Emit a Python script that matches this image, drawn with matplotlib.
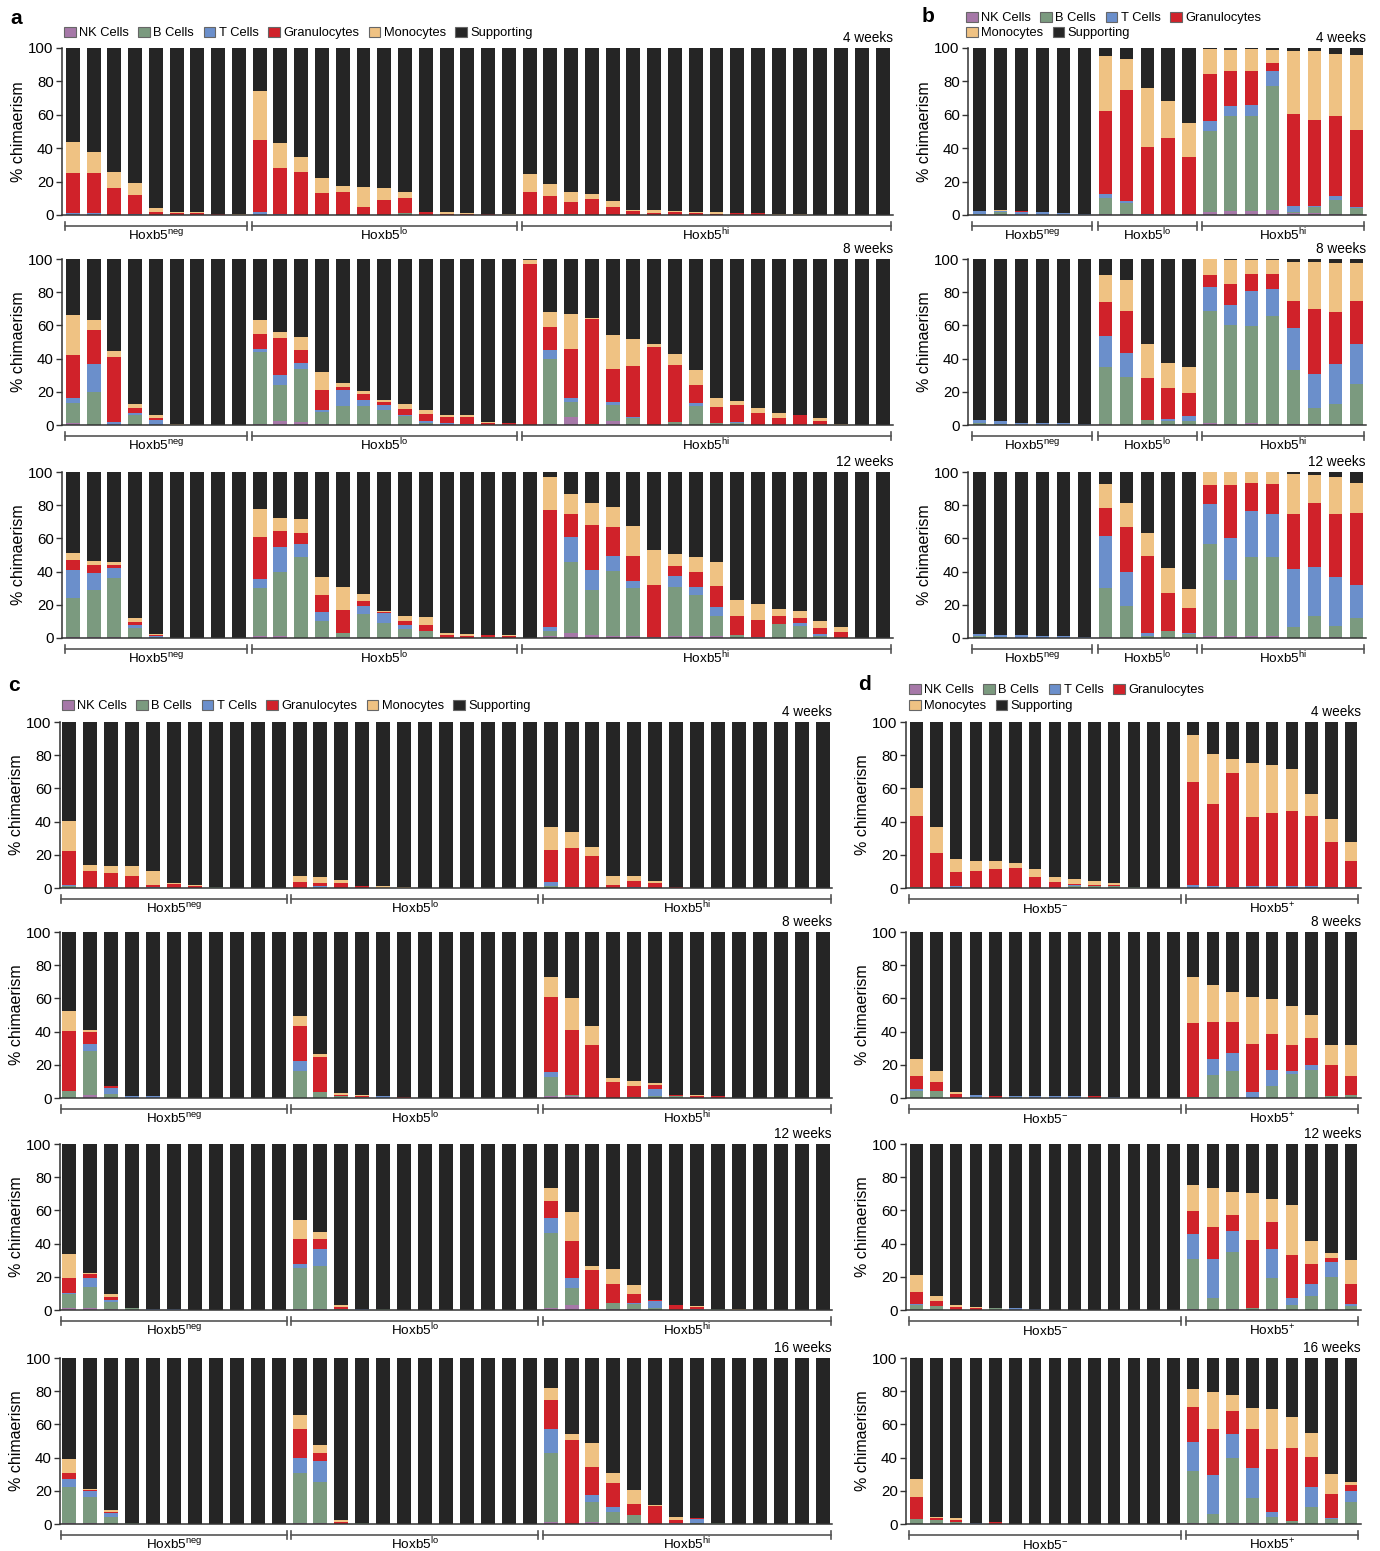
import numpy as np
import matplotlib
matplotlib.use('Agg')
import matplotlib.pyplot as plt
from matplotlib.patches import Patch
from matplotlib.transforms import blended_transform_factory
from matplotlib.lines import Line2D

plt.rcParams['font.family'] = ['Liberation Sans', 'DejaVu Sans']
plt.rcParams['mathtext.fontset'] = 'custom'
plt.rcParams['mathtext.rm'] = 'Liberation Sans'
plt.rcParams['mathtext.it'] = 'Liberation Sans:italic'
plt.rcParams['mathtext.bf'] = 'Liberation Sans:bold'

CELL_TYPES = ['NK Cells', 'B Cells', 'T Cells', 'Granulocytes', 'Monocytes', 'Supporting']
COLORS = ['#a678a8', '#7b9a7f', '#6b8fcb', '#d0222a', '#efc283', '#252525']

# Each bar: cumulative top of [NK, B, T, Granulocytes, Monocytes]; Supporting fills to 100
A4 = [
    [0, 0, 1, 25, 44], [0, 0, 1, 25, 38], [0, 0, 0, 16, 26], [0, 0, 0.5, 12, 19], [0, 0, 0, 1.5, 4],
    [0, 0, 0, 1, 1.5], [0, 0, 0, 1, 1.5], [0, 0, 0, 0.5, 0.6], [0, 0, 0, 0.2, 0.5],
    [0, 0, 1.5, 45, 74], [0, 0, 0.5, 28, 43], [0, 0, 0, 26, 34.5], [0, 0, 0, 13, 22], [0, 0, 0, 14, 17.5],
    [0, 0, 0, 5, 16.5], [0, 0, 0, 9, 16], [0, 1, 1, 10, 13.5], [0, 0, 0, 1.5, 2], [0, 0, 0, 0.5, 1.5],
    [0, 0, 0, 0.5, 1], [0, 0, 0, 0.3, 0.6], [0, 0, 0, 0, 0.3],
    [0, 0, 0, 13.5, 24.5], [0.5, 0.5, 0.5, 11.5, 18.5], [0, 0.5, 0.5, 8, 13.5], [0, 0, 0, 9.5, 12.5],
    [0, 0, 0, 5, 8.5], [0, 0, 0, 2.5, 3], [0, 0, 0, 1, 3], [0, 0, 0, 1.5, 2.2], [0, 0, 0, 1, 2],
    [0, 0, 0, 0.8, 1.5], [0, 0, 0, 1.2, 1.2], [0, 0, 0, 1, 1], [0, 0, 0, 0.2, 0.5], [0, 0, 0, 0, 0.3],
    [0, 0, 0, 0, 0], [0, 0, 0, 0, 0], [0, 0, 0, 0, 0], [0, 0, 0, 0, 0],
]
A8 = [
    [1, 13, 16, 42, 66], [0, 20, 37, 57, 63], [0, 0, 2, 41, 44.5], [0, 6, 7, 10, 12.5], [0, 0, 3, 4.5, 6],
    [0, 0, 0, 0.3, 0.5], [0, 0, 0, 0, 0], [0, 0, 0, 0, 0], [0, 0, 0, 0, 0],
    [0.5, 44, 46, 55, 63.5], [2.5, 24, 30, 52.5, 56], [2, 34, 37.5, 45, 53], [0.5, 8, 9, 21, 32],
    [0, 11.5, 21, 23, 25.5], [0, 11.5, 15, 18.5, 20.5], [0, 9, 12, 14, 15], [0, 5.5, 6, 9.5, 12.5],
    [0, 1.5, 2.5, 6.5, 9], [0, 0, 1, 5, 6], [0, 0, 0.5, 5, 6], [0, 0, 0, 1.5, 2], [0, 0, 0, 1, 1.2],
    [0, 0, 0, 97, 99.5], [0.5, 40, 45, 59, 68], [5, 14, 16, 46, 67], [0, 0.5, 0.5, 64, 64.5],
    [2.5, 12, 14, 33.5, 54], [0, 4, 5, 35.5, 52], [0, 0, 0, 47, 48.5], [0, 2, 2, 36, 43],
    [0, 11.5, 13.5, 24, 33], [0, 1.5, 1.5, 11, 16], [0, 1.5, 2, 12, 14.5], [0, 0, 0, 7, 10],
    [0, 0, 0, 4.5, 7.5], [0, 0, 0, 6, 6], [0, 0, 0, 2.5, 4], [0, 0, 0, 0.3, 0.5],
    [0, 0, 0, 0, 0], [0, 0, 0, 0, 0],
]
A12 = [
    [0.5, 24, 41, 47, 51.5], [0.5, 29, 39, 44, 46.5], [0.5, 36, 42, 44, 45.5], [0, 6, 8, 9.5, 12],
    [0, 0, 1, 2, 2.5], [0, 0, 0, 0, 0], [0, 0, 0, 0, 0], [0, 0, 0, 0, 0], [0, 0, 0, 0, 0],
    [1.5, 30, 35.5, 61, 78], [1, 40, 55, 64.5, 72], [0, 49, 56.5, 63.5, 71.5], [0.5, 10.5, 15.5, 26, 37],
    [0.5, 3, 3, 17, 31], [0, 14.5, 19, 22, 26.5], [0, 9, 15, 15.5, 16], [0.5, 5.5, 8, 10.5, 13.5],
    [0, 4.5, 4.5, 8, 12.5], [0, 0, 0, 2, 3], [0, 0, 0, 1.5, 2.5], [0, 0.5, 0.5, 2, 2], [0, 0, 0, 1.5, 2],
    [0, 0, 0, 0, 0],
    [1, 4, 6.5, 77, 97], [3, 45.5, 61, 75, 86.5], [2, 29, 41, 68, 81.5], [1, 40.5, 49.5, 67, 79],
    [1, 30, 34.5, 49.5, 67.5], [0.5, 0.5, 0.5, 32, 53], [1, 31, 37.5, 43.5, 50.5], [1, 26, 31, 39.5, 49],
    [1, 13, 18.5, 31.5, 46], [0, 2, 2, 13, 23], [0.5, 0.5, 0.5, 11, 20.5], [0, 8.5, 8.5, 13, 17.5],
    [0, 7, 9, 12, 16], [0, 1.5, 2.5, 6, 10], [0, 0, 0, 3.5, 6.5],
    [0, 0, 0, 0, 0], [0, 0, 0, 0, 0], [0, 0, 0, 0, 0],
]
B4 = [
    [0, 0.5, 2.5, 2.5, 2.5], [0, 1.5, 2.5, 2.5, 2.8], [0, 0, 2, 2.2, 2.2], [0, 0, 1.5, 1.5, 1.5],
    [0, 0, 1, 1, 1], [0, 0, 0.8, 0.8, 0.8],
    [0.5, 10, 12.5, 62.5, 95.5], [0.5, 7, 8.5, 75, 93.5], [0, 0, 0.5, 40.5, 76], [0, 0, 0, 46, 68.5],
    [0, 0, 0, 34.5, 55],
    [2, 50.5, 56.5, 84.5, 99.5], [2.5, 59, 65.5, 86, 99], [2.5, 59.5, 66, 86.5, 99.5], [3, 77, 86, 91, 99],
    [1, 2, 5.5, 60.5, 98.5], [1, 4.5, 5.5, 57, 98], [0.5, 9, 11.5, 59.5, 96.5], [0, 4, 4.5, 51, 96],
]
B8 = [
    [0, 1, 3, 3, 3], [0, 0.5, 2.5, 2.5, 2.5], [0, 0, 1.5, 1.5, 1.5], [0, 0, 1.5, 1.5, 1.5],
    [0, 0, 1, 1, 1], [0, 0, 0.8, 0.8, 0.8],
    [0.5, 35, 53.5, 74, 90.5], [0, 29, 43.5, 68.5, 87.5], [0, 3, 3, 28.5, 48.5], [0, 2.5, 3.5, 22, 37.5],
    [0, 2.5, 5.5, 19.5, 35],
    [1, 68.5, 83, 90.5, 100], [0.5, 60.5, 72.5, 85, 99.5], [1, 59.5, 81, 91, 99.5], [0.5, 65.5, 82, 91, 99.5],
    [0.5, 33, 58.5, 75, 98], [0.5, 10, 30.5, 70, 98], [0, 12.5, 36.5, 68, 97.5], [0, 25, 48.5, 74.5, 97.5],
]
B12 = [
    [0, 1, 2.5, 2.5, 2.5], [0, 0.5, 2, 2, 2], [0, 0, 2, 2, 2], [0, 0, 1, 1, 1],
    [0, 0, 1, 1, 1], [0, 0, 0.5, 0.5, 0.5],
    [0.5, 30, 61.5, 78.5, 92.5], [0, 19, 40, 67, 81.5], [0, 1, 3, 49.5, 63.5], [0, 4, 4, 27, 42],
    [0, 2.5, 3, 18, 29.5],
    [1, 56.5, 80.5, 92, 100], [1, 35, 60, 92, 100], [1, 49, 76.5, 93.5, 100], [1.5, 49, 74.5, 93, 100],
    [0, 6.5, 41.5, 75, 98.5], [0, 13, 43, 81.5, 98], [0.5, 7.5, 37, 74.5, 97], [0, 12, 32, 75.5, 93.5],
]
C4 = [
    [0, 1.5, 2, 22, 40.5], [0, 0, 0, 10.5, 14], [0, 0, 0.5, 9, 13.5], [0, 0, 0, 7.5, 13],
    [0, 0, 0.5, 2, 10.5], [0, 0, 0, 2.5, 3], [0, 0, 0, 1.5, 2], [0, 0.5, 0.5, 0.5, 0.5],
    [0, 0, 0, 0, 0.3], [0, 0, 0, 0, 0.2], [0, 0, 0, 0, 0],
    [0, 0, 0, 3.5, 7], [0, 0, 1, 3, 6.5], [0, 0, 0, 3, 5], [0, 0, 0, 1, 1.5], [0, 0, 0, 0.3, 1],
    [0, 0, 0, 0.3, 0.4], [0, 0, 0, 0.3, 0.3], [0, 0, 0.2, 0.2, 0.2], [0, 0, 0, 0, 0], [0, 0, 0, 0, 0],
    [0, 0, 0, 0, 0], [0, 0, 0, 0, 0],
    [0, 1, 3.5, 23, 36.5], [0, 0.5, 0.5, 24, 33.5], [0, 0, 0, 19, 25], [0, 0, 0, 2, 7.5],
    [0, 0, 0.5, 4.5, 7], [0, 0, 0, 3, 4], [0, 0, 0, 0.5, 0.5], [0, 0, 0, 0, 0.3],
    [0, 0, 0, 0, 0], [0, 0, 0, 0, 0], [0, 0, 0, 0, 0], [0, 0, 0, 0, 0], [0, 0, 0, 0, 0], [0, 0, 0, 0, 0],
]
C8 = [
    [0, 4, 4.5, 40.5, 52.5], [2, 28.5, 32.5, 40, 41], [0, 2.5, 6, 7, 7], [0, 0, 1.5, 1.5, 1.5],
    [0, 0, 1, 1, 1], [0, 0, 0, 0.3, 0.3], [0, 0, 0, 0, 0], [0, 0, 0, 0, 0], [0, 0, 0, 0, 0],
    [0, 0, 0, 0, 0], [0, 0, 0, 0, 0],
    [0, 16.5, 22, 43.5, 49.5], [0, 3.5, 3.5, 24.5, 26.5], [0, 1.5, 1.5, 2, 3], [0, 0.5, 0.5, 1.5, 2],
    [0, 0, 1.5, 1.5, 1.5], [0, 0, 0, 0.5, 0.5], [0, 0, 0.2, 0.2, 0.2], [0, 0, 0, 0, 0], [0, 0, 0, 0, 0],
    [0, 0, 0, 0, 0], [0, 0, 0, 0, 0], [0, 0, 0, 0, 0],
    [1, 12.5, 15.5, 61, 73], [1.5, 2, 2, 41, 60], [0, 0, 0, 32, 43.5], [0, 0, 0, 9.5, 12],
    [0, 0.5, 0.5, 7.5, 10.5], [0, 1, 5.5, 8, 9], [0, 1.5, 1.5, 2, 2], [0, 0, 0, 1.5, 2],
    [0, 0, 0, 1, 1.5], [0, 0, 0, 0.3, 0.3], [0, 0, 0, 0, 0], [0, 0, 0, 0, 0], [0, 0, 0, 0, 0],
    [0, 0, 0, 0, 0],
]
C12 = [
    [1, 9.5, 10.5, 19.5, 34], [1.5, 14, 19.5, 21.5, 22.5], [0.5, 5, 6, 8, 9.5], [0, 1, 1, 1, 1],
    [0, 0, 0.5, 0.5, 0.5], [0, 0, 0.5, 0.5, 0.5], [0, 0, 0.2, 0.2, 0.2], [0, 0, 0, 0, 0],
    [0, 0, 0, 0, 0], [0, 0, 0, 0, 0], [0, 0, 0, 0, 0],
    [0.5, 25.5, 28, 42.5, 54.5], [0.5, 26.5, 37, 42.5, 47], [0, 0.5, 0.5, 2, 3], [0, 0, 0.5, 0.5, 0.5],
    [0, 0.5, 0.8, 0.8, 0.8], [0, 0, 0.2, 0.2, 0.2], [0, 0, 0, 0, 0], [0, 0, 0, 0, 0], [0, 0, 0, 0, 0],
    [0, 0, 0, 0, 0], [0, 0, 0, 0, 0], [0, 0, 0, 0, 0],
    [1, 46.5, 55.5, 65.5, 73.5], [3, 13, 19.5, 41.5, 59], [0, 0.5, 0.5, 24, 26.5], [0.5, 4, 4, 15.5, 25],
    [0.5, 3.5, 4.5, 9.5, 15], [0, 1, 5.5, 6, 6], [0, 0, 0, 3, 3], [0.5, 0.5, 0.5, 2, 2.5],
    [0, 0.5, 0.8, 0.8, 0.8], [0, 0, 0, 0, 0.4], [0, 0, 0, 0, 0], [0, 0, 0, 0, 0], [0, 0, 0, 0, 0],
    [0, 0, 0, 0, 0],
]
C16 = [
    [0.5, 22, 27, 31, 39], [0.5, 16, 20, 20.5, 21], [0, 4, 6.5, 7.5, 8.5], [0, 0.5, 0.5, 0.5, 0.5],
    [0, 0, 0.3, 0.3, 0.3], [0, 0, 0, 0, 0], [0, 0, 0, 0, 0], [0, 0, 0, 0, 0], [0, 0, 0, 0, 0],
    [0, 0, 0, 0, 0], [0, 0, 0, 0, 0],
    [0.5, 30.5, 40, 57.5, 65.5], [0.5, 25.5, 38, 43, 47.5], [0, 0, 0, 1.5, 2.5], [0, 0.5, 0.5, 0.5, 0.5],
    [0, 0.3, 0.3, 0.3, 0.3], [0, 0, 0, 0.2, 0.2], [0, 0, 0.2, 0.2, 0.2], [0, 0, 0, 0, 0], [0, 0, 0, 0, 0],
    [0, 0, 0, 0, 0], [0, 0, 0, 0, 0], [0, 0, 0, 0, 0],
    [1.5, 43, 57, 75, 82], [0, 0, 0, 50.5, 54.5], [1.5, 13, 17.5, 34.5, 48.5], [0.5, 7, 10, 25, 31],
    [0.5, 5.5, 5.5, 12, 20.5], [0, 0, 0, 11, 11.5], [0.5, 0.5, 0.5, 2.5, 4], [0, 0.5, 3, 3.5, 3.8],
    [0, 0.5, 0.5, 0.5, 0.5], [0, 0, 0, 0, 0], [0, 0, 0, 0, 0], [0, 0, 0, 0, 0], [0, 0, 0, 0, 0],
    [0, 0, 0, 0, 0],
]
D4 = [
    [0, 0.5, 0.5, 43.5, 60.5], [0, 0, 0, 21, 36.5], [0, 0, 1, 9.5, 17.5], [0, 0, 0, 10.5, 16.5],
    [0, 0, 0, 11.5, 16.5], [0, 0, 0, 12, 15], [0, 0, 0, 6.5, 11.5], [0, 0, 0, 3.5, 6.5],
    [0, 1, 2, 2.5, 5.5], [0, 1, 1, 2, 4.5], [0, 1.5, 1.5, 2, 3], [0, 0.5, 0.5, 0.5, 0.5],
    [0, 0, 0, 0.3, 0.3], [0, 0, 0, 0, 0],
    [0, 0, 2, 64, 92], [0, 0, 1, 50.5, 80.5], [0, 0, 0.5, 69.5, 77.5], [0, 0, 1, 43, 75.5],
    [0, 0, 1, 45, 74], [0, 0, 1, 46.5, 71.5], [0, 0, 1, 43.5, 56.5], [0, 0, 0.5, 27.5, 41.5],
    [0, 0, 0.5, 16.5, 28],
]
D8 = [
    [0, 4.5, 5.5, 13.5, 23.5], [0, 4, 4, 9.5, 16], [0, 0, 0, 2.5, 3.5], [0, 0.5, 2, 2, 2],
    [0, 0, 0, 1, 1.5], [0, 0.5, 1, 1, 1], [0, 0, 1.5, 1.5, 1.5], [0, 0, 1, 1, 1], [0, 0, 1, 1, 1],
    [0, 0, 0, 1, 1], [0, 0, 0.5, 0.5, 0.5], [0, 0, 0, 0, 0.3], [0, 0, 0, 0, 0], [0, 0, 0, 0, 0],
    [0, 0.5, 0.5, 45, 73], [0.5, 14, 23.5, 46, 68], [0.5, 16.5, 27, 46, 64], [0, 0, 3.5, 32.5, 61],
    [0, 7, 17, 38.5, 59.5], [0.5, 14.5, 16.5, 32, 55.5], [0, 17, 20, 36, 50], [0, 1.5, 1.5, 20, 32],
    [0, 2, 2, 13.5, 32],
]
D12 = [
    [0, 3, 3.5, 11, 21], [0, 2.5, 2.5, 5.5, 8.5], [0, 0, 0, 2, 3], [0, 0, 0, 1.5, 2], [0, 1, 1, 1, 1],
    [0, 0, 1, 1, 1], [0, 0, 0.7, 0.7, 0.7], [0, 0, 0, 0, 0.3], [0, 0, 0, 0, 0.3], [0, 0, 0, 0, 0],
    [0, 0, 0, 0, 0], [0, 0, 0, 0, 0], [0, 0, 0, 0, 0], [0, 0, 0, 0, 0],
    [0.5, 31, 46, 59.5, 75.5], [0, 7, 31, 50, 73.5], [0.5, 35, 47.5, 57, 71], [0, 1.5, 1.5, 42, 70.5],
    [0.5, 19.5, 37, 53, 67], [0, 3, 7.5, 33, 63.5], [0, 8.5, 15.5, 27.5, 41.5], [0, 20, 29, 31.5, 34.5],
    [0, 2.5, 3.5, 15.5, 30],
]
D16 = [
    [0, 3, 3, 16.5, 27], [0, 2.5, 2.5, 3.5, 4], [0, 1, 1, 2.5, 3.5], [0, 0, 0.5, 0.5, 0.5],
    [0, 0, 0, 1, 1], [0, 0, 0.3, 0.3, 0.3], [0, 0, 0.3, 0.3, 0.3], [0, 0, 0, 0, 0], [0, 0, 0, 0, 0],
    [0, 0, 0, 0, 0], [0, 0, 0, 0, 0], [0, 0, 0, 0, 0], [0, 0, 0, 0, 0], [0, 0, 0, 0, 0],
    [0.5, 32, 49.5, 70.5, 81.5], [0, 6, 29.5, 57, 79.5], [0.5, 39.5, 54.5, 68, 78], [0.5, 15.5, 33.5, 57, 70],
    [0, 4, 7, 45, 69.5], [0, 2, 2, 45.5, 64.5], [0, 10, 22.5, 40.5, 55], [0, 3, 3.5, 18, 30],
    [0, 13, 20, 23.5, 25.5],
]

A_SIZES = [9, 13, 18]
B_SIZES = [6, 5, 8]
C_SIZES = [11, 12, 14]
D_SIZES = [14, 9]
ABC_GROUPS = [r'Hoxb5$^{\mathrm{neg}}$', r'Hoxb5$^{\mathrm{lo}}$', r'Hoxb5$^{\mathrm{hi}}$']
D_GROUPS = [r'Hoxb5$^{\mathrm{-}}$', r'Hoxb5$^{\mathrm{+}}$']
YTICKS = [0, 20, 40, 60, 80, 100]

W, H = 1380, 1551
fig = plt.figure(figsize=(W / 100, H / 100), dpi=100)
FS = 9.3
AXC = '#333333'


def draw(x0, x1, ytop, ybot, tops, sizes, groups, week, xlim, width):
    ax = fig.add_axes([x0 / W, 1 - ybot / H, (x1 - x0) / W, (ybot - ytop) / H])
    hpx = ybot - ytop
    tops = np.array(tops, dtype=float)
    n = len(tops)
    x = np.arange(n)
    full = np.column_stack([np.zeros(n), tops, np.full(n, 100.0)])
    for k in range(6):
        ax.bar(x, full[:, k + 1] - full[:, k], bottom=full[:, k], width=width,
               color=COLORS[k], linewidth=0)
    ax.set_xlim(*xlim)
    ax.set_ylim(0, 100)
    ax.set_yticks(YTICKS)
    ax.set_xticks([])
    for s in ['top', 'right']:
        ax.spines[s].set_visible(False)
    for s in ['left', 'bottom']:
        ax.spines[s].set_color(AXC)
        ax.spines[s].set_linewidth(1.1)
    ax.tick_params(axis='y', length=4, width=1, color=AXC, labelsize=10.8, pad=2)
    ax.set_ylabel('% chimaerism', fontsize=11.5, labelpad=2)
    ax.text(1.0, 1.0 + 10 / hpx, week, transform=ax.transAxes, ha='right', va='center',
            fontsize=9.8)
    tr = blended_transform_factory(ax.transData, ax.transAxes)
    yb = -11 / hpx
    dt = 4 / hpx
    start = 0
    for g, sz in zip(groups, sizes):
        a = start - width / 2 - 0.05
        b = start + sz - 1 + width / 2 + 0.05
        ax.add_line(Line2D([a, b], [yb, yb], transform=tr, color='#555555', lw=1.2,
                           clip_on=False))
        for xx in (a, b):
            ax.add_line(Line2D([xx, xx], [yb - dt, yb + dt], transform=tr, color='#555555',
                               lw=1.2, clip_on=False))
        ax.text((a + b) / 2, -25 / hpx, g, transform=tr, ha='center', va='baseline',
                fontsize=9.7)
        start += sz
    return ax


ROWS_AB = [(48, 215), (259, 425), (472, 638)]
ROWS_CD = [(722, 888), (932, 1098), (1144, 1310), (1358, 1524)]

for (yt, yb), dat, wk in zip(ROWS_AB, [A4, A8, A12], ['4 weeks', '8 weeks', '12 weeks']):
    draw(62, 893, yt, yb, dat, A_SIZES, ABC_GROUPS, wk, (-0.52, 39.5), 0.67)
for (yt, yb), dat, wk in zip(ROWS_AB, [B4, B8, B12], ['4 weeks', '8 weeks', '12 weeks']):
    draw(968, 1366, yt, yb, dat, B_SIZES, ABC_GROUPS, wk, (-0.55, 18.45), 0.63)
for (yt, yb), dat, wk in zip(ROWS_CD, [C4, C8, C12, C16],
                             ['4 weeks', '8 weeks', '12 weeks', '16 weeks']):
    draw(60, 832, yt, yb, dat, C_SIZES, ABC_GROUPS, wk, (-0.45, 36.45), 0.67)
for (yt, yb), dat, wk in zip(ROWS_CD, [D4, D8, D12, D16],
                             ['4 weeks', '8 weeks', '12 weeks', '16 weeks']):
    draw(906, 1361, yt, yb, dat, D_SIZES, D_GROUPS, wk, (-0.54, 22.5), 0.63)


def handles(idx):
    return [Patch(facecolor=COLORS[i], edgecolor='#666666', linewidth=0.8, label=CELL_TYPES[i])
            for i in idx]


def legend(x, y, idx):
    fig.legend(handles=handles(idx), loc='center left', bbox_to_anchor=(x / W, 1 - y / H),
               ncol=len(idx), frameon=False, fontsize=FS, handlelength=0.9, handleheight=0.9,
               handletextpad=0.25, columnspacing=0.75, borderpad=0, borderaxespad=0)


legend(64, 33, [0, 1, 2, 3, 4, 5])
legend(966, 18, [0, 1, 2, 3])
legend(966, 33, [4, 5])
legend(62, 706, [0, 1, 2, 3, 4, 5])
legend(909, 690, [0, 1, 2, 3])
legend(909, 706, [4, 5])

for lbl, x, y in [('a', 10, 18), ('b', 922, 17), ('c', 8, 686), ('d', 858, 685)]:
    fig.text(x / W, 1 - y / H, lbl, fontsize=15, fontweight='bold', va='center', ha='left')

fig.savefig('out.png', dpi=100)
